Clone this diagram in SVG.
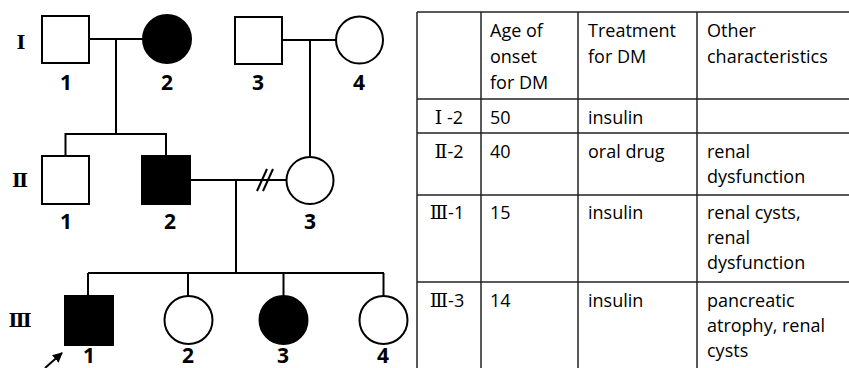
<svg xmlns="http://www.w3.org/2000/svg" width="849" height="368" viewBox="0 0 849 368">
<defs>
<style>
.ln{stroke:#000;stroke-width:2;fill:none}
.open{stroke:#000;stroke-width:2;fill:#fff}
.aff{stroke:#000;stroke-width:2;fill:#000}
.num{font-family:"Open Sans","Liberation Sans",sans-serif;font-weight:bold;font-size:21px;text-anchor:middle;fill:#000}
.gen{font-family:"DejaVu Serif","Liberation Serif","Noto Sans CJK SC",serif;font-weight:bold;font-size:19px;text-anchor:middle;fill:#000}
.tl{stroke:#222;stroke-width:1.5;fill:none}
.tt{font-family:"Open Sans","Liberation Sans",sans-serif;font-size:18px;fill:#000}
.rn{font-family:"Open Sans","Noto Sans CJK SC",sans-serif;font-size:18px;fill:#000;text-anchor:middle}
.rs{font-family:"DejaVu Serif","Liberation Serif","Noto Sans CJK SC",serif;font-size:19px}
</style>
<marker id="ah" viewBox="0 0 10 10" refX="9" refY="5" markerWidth="5" markerHeight="5" orient="auto">
<path d="M0,0 L10,5 L0,10 z" fill="#000"/>
</marker>
</defs>

<g id="gen-labels">
<text class="gen" x="21" y="49">Ⅰ</text>
<text class="gen" x="20" y="187">Ⅱ</text>
<text class="gen" x="20" y="327">Ⅲ</text>
</g>

<g id="connectors">
<line class="ln" x1="89" y1="39" x2="143" y2="39"/>
<line class="ln" x1="116" y1="39" x2="116" y2="134"/>
<polyline class="ln" points="65.5,156 65.5,134 166,134 166,156"/>
<line class="ln" x1="282" y1="40" x2="336" y2="40"/>
<line class="ln" x1="310" y1="40" x2="310" y2="157"/>
<line class="ln" x1="190" y1="180" x2="287" y2="180"/>
<line class="ln" x1="257" y1="191" x2="267" y2="169"/>
<line class="ln" x1="263" y1="191" x2="273" y2="169"/>
<line class="ln" x1="236" y1="180" x2="236" y2="273"/>
<line class="ln" x1="88" y1="273" x2="384" y2="273"/>
<line class="ln" x1="88" y1="273" x2="88" y2="296"/>
<line class="ln" x1="188" y1="273" x2="188" y2="296"/>
<line class="ln" x1="283.5" y1="273" x2="283.5" y2="296"/>
<line class="ln" x1="383.5" y1="273" x2="383.5" y2="296"/>
<line class="ln" x1="45" y1="368" x2="62" y2="353" marker-end="url(#ah)"/>
</g>

<g id="I-1"><rect class="open" x="42" y="16" width="47" height="47"/><text class="num" x="66" y="90">1</text></g>
<g id="I-2"><circle class="aff" cx="167" cy="39" r="24"/><text class="num" x="167" y="90">2</text></g>
<g id="I-3"><rect class="open" x="235" y="17" width="47" height="47"/><text class="num" x="258" y="90">3</text></g>
<g id="I-4"><circle class="open" cx="359.5" cy="40" r="23.5"/><text class="num" x="359" y="90">4</text></g>

<g id="II-1"><rect class="open" x="42" y="156" width="47" height="48"/><text class="num" x="66" y="229">1</text></g>
<g id="II-2"><rect class="aff" x="142" y="156" width="48" height="48"/><text class="num" x="170" y="229">2</text></g>
<g id="II-3"><circle class="open" cx="310" cy="180.5" r="23.5"/><text class="num" x="310" y="229">3</text></g>

<g id="III-1"><rect class="aff" x="65" y="296" width="48" height="49"/><text class="num" x="89" y="363">1</text></g>
<g id="III-2"><circle class="open" cx="188.5" cy="320" r="24"/><text class="num" x="188" y="363">2</text></g>
<g id="III-3"><circle class="aff" cx="283.5" cy="320" r="24"/><text class="num" x="283" y="363">3</text></g>
<g id="III-4"><circle class="open" cx="383.5" cy="320" r="24"/><text class="num" x="383" y="363">4</text></g>

<g id="table">
<line class="tl" x1="417" y1="12" x2="849" y2="12"/>
<line class="tl" x1="417" y1="99" x2="849" y2="99"/>
<line class="tl" x1="417" y1="133" x2="849" y2="133"/>
<line class="tl" x1="417" y1="195" x2="849" y2="195"/>
<line class="tl" x1="417" y1="282" x2="849" y2="282"/>
<line class="tl" x1="417" y1="12" x2="417" y2="368"/>
<line class="tl" x1="481" y1="12" x2="481" y2="368"/>
<line class="tl" x1="578" y1="12" x2="578" y2="368"/>
<line class="tl" x1="697" y1="12" x2="697" y2="368"/>

<text class="tt" x="490" y="37">Age of</text>
<text class="tt" x="490" y="63">onset</text>
<text class="tt" x="490" y="89">for DM</text>
<text class="tt" x="588" y="37">Treatment</text>
<text class="tt" x="588" y="63">for DM</text>
<text class="tt" x="707" y="37">Other</text>
<text class="tt" x="707" y="63">characteristics</text>

<text class="rn" x="449" y="124"><tspan class="rs">Ⅰ</tspan> -2</text>
<text class="tt" x="490" y="124">50</text>
<text class="tt" x="588" y="124">insulin</text>

<text class="rn" x="449" y="158"><tspan class="rs">Ⅱ</tspan>-2</text>
<text class="tt" x="490" y="158">40</text>
<text class="tt" x="588" y="158">oral drug</text>
<text class="tt" x="707" y="158">renal</text>
<text class="tt" x="707" y="183">dysfunction</text>

<text class="rn" x="447" y="219"><tspan class="rs">Ⅲ</tspan>-1</text>
<text class="tt" x="490" y="219">15</text>
<text class="tt" x="588" y="219">insulin</text>
<text class="tt" x="707" y="219">renal cysts,</text>
<text class="tt" x="707" y="244">renal</text>
<text class="tt" x="707" y="269">dysfunction</text>

<text class="rn" x="447" y="307"><tspan class="rs">Ⅲ</tspan>-3</text>
<text class="tt" x="490" y="307">14</text>
<text class="tt" x="588" y="307">insulin</text>
<text class="tt" x="707" y="307">pancreatic</text>
<text class="tt" x="707" y="332">atrophy, renal</text>
<text class="tt" x="707" y="357">cysts</text>
</g>
</svg>
